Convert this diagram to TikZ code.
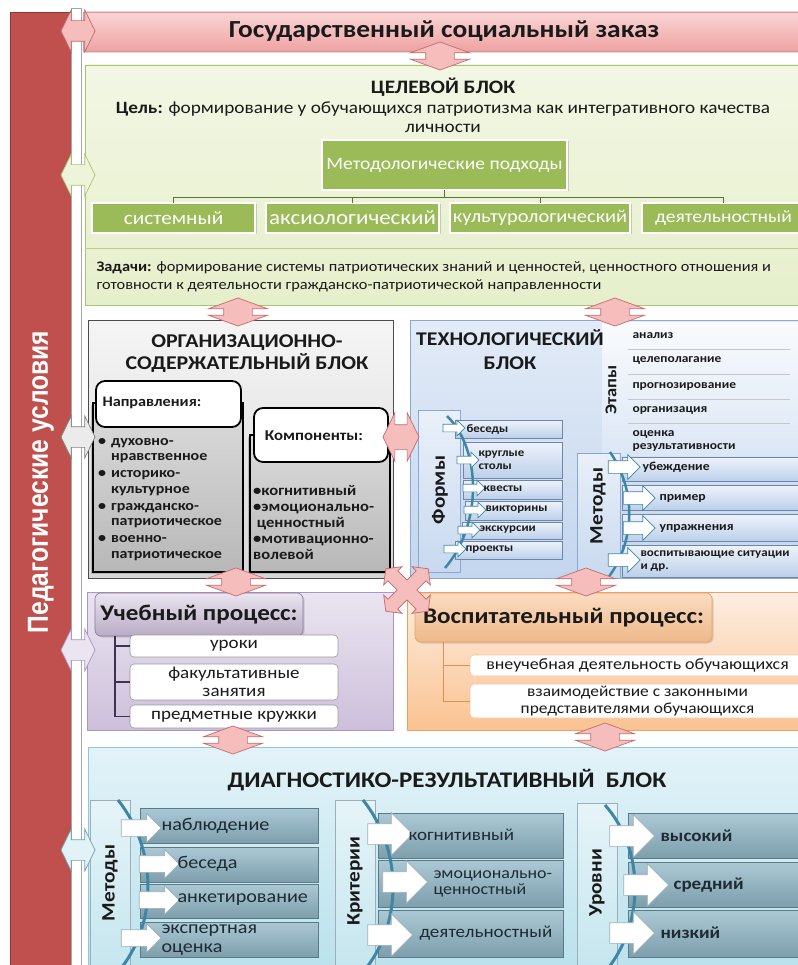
\documentclass[tikz,border=0pt]{standalone}
\usepackage{fontspec}
\setmainfont{Carlito}[FakeStretch=1.12]
\newfontfamily\condfont{Liberation Sans}[FakeStretch=0.85]
\usetikzlibrary{shapes.arrows,shadows}
\newcommand\fsz[2]{\fontsize{#1}{#2}\selectfont}
\definecolor{redbar}{HTML}{C0504D}
\definecolor{redbarD}{HTML}{8E3A38}
\definecolor{pinkF}{HTML}{F6BDBD}
\definecolor{pinkD}{HTML}{C46A6B}
\definecolor{zakT}{HTML}{F9D5D5}
\definecolor{zakB}{HTML}{EFA3A3}
\definecolor{greenT}{HTML}{F2F7E4}
\definecolor{greenB}{HTML}{E6EFCB}
\definecolor{greenD}{HTML}{A9C46E}
\definecolor{olive}{HTML}{9BBB59}
\definecolor{techT}{HTML}{E2EBF7}
\definecolor{techB}{HTML}{C3D6EE}
\definecolor{techD}{HTML}{8AA8D4}
\definecolor{panT}{HTML}{E9F0F9}
\definecolor{panB}{HTML}{C8D9EF}
\definecolor{itT}{HTML}{EEF3FB}
\definecolor{itB}{HTML}{BCD0EA}
\definecolor{purT}{HTML}{EAE5F0}
\definecolor{purB}{HTML}{CDBFDB}
\definecolor{purD}{HTML}{A996C2}
\definecolor{purL}{HTML}{3F3151}
\definecolor{orT}{HTML}{FDEEE2}
\definecolor{orB}{HTML}{FAC290}
\definecolor{orD}{HTML}{EDA063}
\definecolor{orL}{HTML}{E0924C}
\definecolor{cyT}{HTML}{E2F3F8}
\definecolor{cyB}{HTML}{B9E1EC}
\definecolor{cyD}{HTML}{8CC8D8}
\definecolor{dpT}{HTML}{E6F4F8}
\definecolor{dpB}{HTML}{C4E5EE}
\definecolor{diT}{HTML}{ABC9D5}
\definecolor{diB}{HTML}{7E9EAC}
\definecolor{diD}{HTML}{5A7A88}
\definecolor{arcb}{HTML}{3F86A6}
\definecolor{txt}{HTML}{1A1A1A}
\definecolor{dtxt}{HTML}{1E2B33}
\newcommand\bx[7]{\node[#1, minimum width={#4-#2}, minimum height={#5-#3}] (#6) at ({(#2+#4)/2},{(#3+#5)/2}) {#7};}
\tikzset{
 every node/.style={text=txt},
 bb/.style={inner sep=0pt, outer sep=0pt},
 pinkv/.style={double arrow, draw=pinkD, fill=pinkF, line width=0.7pt, rotate=90, minimum height=28pt, inner xsep=0pt, inner ysep=14pt, outer sep=0pt, double arrow head extend=15pt, double arrow tip angle=140},
 sidearr/.style={double arrow, line width=0.7pt, minimum height=34pt, inner xsep=0pt, inner ysep=10pt, outer sep=0pt, double arrow head extend=10.5pt, double arrow tip angle=128},
 warr/.style n args={4}{single arrow, draw=#4, fill=white, line width=0.7pt, minimum height=#1, inner xsep=0pt, inner ysep=#2, outer sep=0pt, single arrow head extend=#3},
 greenblk/.style={bb, draw=greenD, line width=0.8pt, top color=greenT, bottom color=greenB},
 olivebox/.style={bb, draw=white, line width=1.6pt, fill=olive, text=white, drop shadow={opacity=0.35,shadow xshift=1.5pt,shadow yshift=-1.5pt}},
 grayblk/.style={bb, draw=black!70, line width=1pt, top color=black!4, bottom color=black!16},
 innerg/.style={bb, draw=black, line width=1.8pt, top color=black!14, bottom color=black!28, drop shadow={opacity=0.4,shadow xshift=-2pt,shadow yshift=-2pt}},
 hdrw/.style={bb, draw=black, line width=1.8pt, fill=white, rounded corners=9pt},
 techblk/.style={bb, draw=techD, line width=0.8pt, top color=techT, bottom color=techB},
 techpan/.style={bb, draw=techD, line width=0.7pt, top color=panT, bottom color=panB},
 techit/.style={bb, draw=techD!80!black, line width=0.5pt, top color=itT, bottom color=itB},
 purblk/.style={bb, draw=purD, line width=0.8pt, top color=purT, bottom color=purB},
 purhdr/.style={bb, draw=purD!80!black, line width=0.6pt, top color=purT, bottom color=purB!90!black, rounded corners=6pt, drop shadow={opacity=0.3,shadow xshift=1.5pt,shadow yshift=-1.5pt}},
 whit/.style={bb, draw=black!40, line width=0.6pt, fill=white, rounded corners=4pt},
 orblk/.style={bb, draw=orD, line width=0.8pt, top color=orT, bottom color=orB},
 orhdr/.style={bb, draw=orD, line width=0.6pt, top color=orT!60!orB, bottom color=orB!95!black, rounded corners=6pt, drop shadow={opacity=0.3,shadow xshift=1.5pt,shadow yshift=-1.5pt}},
 cyblk/.style={bb, draw=cyD, line width=0.8pt, top color=cyT, bottom color=cyB},
 dpan/.style={bb, draw=diD!60, line width=0.6pt, top color=dpT, bottom color=dpB},
 dit/.style={bb, draw=diD, line width=0.6pt, top color=diT, bottom color=diB},
 lbl/.style={rotate=90, font=\bfseries\fsz{19}{21}},
 etx/.style={anchor=west, font=\bfseries\fsz{12}{13}, align=left},
 ftx/.style={anchor=west, font=\bfseries\fsz{11.5}{12.5}, align=left},
 dtx/.style={anchor=west, font=\fsz{18}{19}, text=dtxt, align=left},
}
\begin{document}
\begin{tikzpicture}[x=1pt,y=-1pt]
\useasboundingbox (0,0) rectangle (797,965);
\fill[white] (0,0) rectangle (797,965);

% left bar
\bx{bb, draw=redbarD, fill=redbar, line width=0.8pt}{10}{12}{71}{975}{bar}{}
\node[rotate=90, text=white, font=\condfont\bfseries\fsz{29}{30}] (cond) at (41,482) {Педагогические условия};
\bx{bb, draw=black!35, fill=white, line width=0.5pt}{71}{8}{81}{975}{strip}{}

% top box
\bx{bb, draw=pinkD!70, line width=0.8pt, top color=zakT, bottom color=zakB, drop shadow={opacity=0.25,shadow xshift=0pt,shadow yshift=-2pt}, font=\bfseries\fsz{24.5}{26}}{83}{12}{805}{51}{zakaz}{Государственный социальный заказ}

% green block
\bx{greenblk}{85}{65}{805}{305}{celblk}{}
\draw[greenD!80, line width=0.6pt] (85,248) -- (800,248);
\node[font=\bfseries\fsz{19}{21}] (celt) at (443,87) {ЦЕЛЕВОЙ БЛОК};
\node[font=\fsz{17.2}{19}, align=center] (celtxt) at (443,117) {\textbf{Цель:} формирование у обучающихся патриотизма как интегративного качества\\личности};
\bx{olivebox, font=\fsz{17.5}{20}}{322}{140}{567}{190}{metod}{Методологические подходы}
\bx{olivebox, font=\fsz{19}{22}}{92}{203}{255}{233}{ap1}{системный}
\bx{olivebox, font=\fsz{20.5}{22}}{266}{203}{439}{233}{ap2}{аксиологический}
\bx{olivebox, font=\fsz{18.2}{20}}{450}{203}{630}{233}{ap3}{культурологический}
\bx{olivebox, font=\fsz{17.5}{20}}{642}{203}{805}{233}{ap4}{деятельностный}
\coordinate (tj) at (444.5,197);
\draw[olive!60!black, line width=0.8pt] (metod.south) -- (tj) (ap1.north) |- (tj) (ap4.north) |- (tj) (ap2.north) -- (ap2.north |- tj) (ap3.north) -- (ap3.north |- tj);
\node[font=\fsz{14.6}{18}, align=left, anchor=west] (zad) at (93,277) {\textbf{Задачи:} формирование системы патриотических знаний и ценностей, ценностного отношения и\\готовности к деятельности гражданско-патриотической направленности};

% org block
\bx{grayblk}{88}{320}{393}{578}{orgblk}{}
\node[font=\bfseries\fsz{19.5}{22}, align=center] (orgt) at (247,354) {ОРГАНИЗАЦИОННО-\\СОДЕРЖАТЕЛЬНЫЙ БЛОК};
\bx{innerg}{93}{403}{243}{572}{naprb}{}
\bx{hdrw}{96}{381}{241}{427}{naprh}{}
\node[font=\bfseries\fsz{14.5}{16}, anchor=west] (naprt) at (99,403) {Направления:};
\node[font=\bfseries\fsz{14.3}{15.5}, anchor=north west, inner sep=0pt] (naprl) at (98,434) {\begin{tabular}{@{}l@{\hspace{5pt}}l@{}}•&духовно-\\&нравственное\\[1.5pt]•&историко-\\&культурное\\[1.5pt]•&гражданско-\\&патриотическое\\[1.5pt]•&военно-\\&патриотическое\end{tabular}};
\bx{innerg}{250}{435}{390}{572}{kompb}{}
\bx{hdrw}{254}{408}{388}{462}{komph}{}
\node[font=\bfseries\fsz{15}{16}] (kompt) at (314,436) {Компоненты:};
\node[font=\bfseries\fsz{14.8}{16}, anchor=north west, inner sep=0pt] (kompl) at (253,484) {\begin{tabular}{@{}l@{}}•когнитивный\\•эмоционально-\\\ ценностный\\•мотивационно-\\волевой\end{tabular}};

% tech block
\bx{techblk}{410}{320}{805}{578}{techb}{}
\bx{bb, top color=white!80!techT, bottom color=techT!80!techB}{602}{322}{805}{455}{etapa}{}
\node[font=\bfseries\fsz{19.4}{24}, align=center] (techt) at (510,350) {ТЕХНОЛОГИЧЕСКИЙ\\БЛОК};
\foreach \yy in {349,374,399,423} \draw[black!22, line width=0.8pt] (628,\yy) -- (790,\yy);
\node[etx] (e1) at (629,336) {анализ};
\node[etx] (e2) at (629,361) {целеполагание};
\node[etx] (e3) at (629,386) {прогнозирование};
\node[etx] (e4) at (629,410) {организация};
\node[etx] (e5) at (629,441) {оценка\\результативности};
\node[lbl, font=\bfseries\fsz{16.5}{18}] (etl) at (611,390) {Этапы};

\bx{techpan}{418}{410}{460}{572}{formp}{}
\node[lbl] (forml) at (440,490) {Формы};
\bx{techit}{455}{420}{562}{438}{f1}{}
\bx{techit}{463}{442}{562}{478}{f2}{}
\bx{techit}{463}{480}{562}{499}{f3}{}
\bx{techit}{465}{501}{562}{520}{f4}{}
\bx{techit}{462}{522}{562}{539}{f5}{}
\bx{techit}{455}{541}{562}{559}{f6}{}
\draw[arcb, line width=2.5pt] (447,416) .. controls (482,450) and (482,525) .. (445,568);
\node[warr={22pt}{3.5pt}{4pt}{arcb}] (c1) at (452,428) {};
\node[warr={22pt}{3.5pt}{4pt}{arcb}] (c2) at (466,460) {};
\node[warr={22pt}{3.5pt}{4pt}{arcb}] (c3) at (472,488) {};
\node[warr={22pt}{3.5pt}{4pt}{arcb}] (c4) at (473,510) {};
\node[warr={22pt}{3.5pt}{4pt}{arcb}] (c5) at (467,530) {};
\node[warr={22pt}{3.5pt}{4pt}{arcb}] (c6) at (453,549) {};
\node[ftx] (ft1) at (463,429) {беседы};
\node[ftx] (ft2) at (475,460) {круглые\\столы};
\node[ftx] (ft3) at (480,489) {квесты};
\node[ftx] (ft4) at (482,510) {викторины};
\node[ftx] (ft5) at (476,530) {экскурсии};
\node[ftx] (ft6) at (462,550) {проекты};

\bx{techpan}{577}{453}{620}{578}{metp}{}
\node[lbl] (metl) at (598,506) {Методы};
\bx{techit}{622}{457}{805}{481}{m1}{}
\bx{techit}{622}{485}{805}{510}{m2}{}
\bx{techit}{622}{514}{805}{541}{m3}{}
\bx{techit}{622}{545}{805}{577}{m4}{}
\draw[arcb, line width=2.5pt] (610,452) .. controls (636,490) and (636,540) .. (608,578);
\node[warr={32pt}{6pt}{6pt}{arcb}] (ma1) at (621,467) {};
\node[warr={32pt}{6pt}{6pt}{arcb}] (ma2) at (636,498) {};
\node[warr={32pt}{6pt}{6pt}{arcb}] (ma3) at (636,528) {};
\node[warr={32pt}{6pt}{6pt}{arcb}] (ma4) at (621,560) {};
\node[ftx, font=\bfseries\fsz{12.2}{13}] (mt1) at (639,467) {убеждение};
\node[ftx, font=\bfseries\fsz{12.2}{13}] (mt2) at (656,498) {пример};
\node[ftx, font=\bfseries\fsz{12.2}{13}] (mt3) at (656,528) {упражнения};
\node[ftx, font=\bfseries\fsz{11.6}{13}] (mt4) at (637,561) {воспитывающие ситуации\\и др.};

% connectors between blocks
\node[pinkv] (pa0) at (440,56) {};
\node[pinkv] (pa1) at (238,312) {};
\node[pinkv] (pa2) at (615,312) {};
\node[sidearr, draw=pinkD, fill=pinkF, minimum height=36pt, inner ysep=12pt, double arrow head extend=12pt] (oarr) at (401,437) {};

% purple
\bx{purblk}{87}{592}{393}{730}{uchblk}{}
\bx{purhdr, font=\bfseries\fsz{22.4}{24}}{95}{593}{303}{636}{uchh}{Учебный процесс:}
\bx{whit, font=\fsz{17}{17}}{130}{635}{338}{657}{u1}{уроки}
\bx{whit, font=\fsz{17}{17.5}, align=center}{130}{664}{338}{700}{u2}{факультативные\\занятия}
\bx{whit, font=\fsz{17}{17}}{130}{705}{338}{728}{u3}{предметные кружки}
\coordinate (ut) at (115,636);
\draw[purL, line width=1.3pt] (ut) |- (u3.west) (u1.west) -- (u1.west -| ut) (u2.west) -- (u2.west -| ut);

% orange
\bx{orblk}{407}{592}{805}{730}{voblk}{}
\bx{orhdr, font=\bfseries\fsz{22.4}{24}}{415}{593}{712}{642}{voh}{Воспитательный процесс:}
\bx{whit, draw=orD!60, font=\fsz{16}{16}}{470}{655}{805}{676}{v1}{внеучебная деятельность обучающихся}
\bx{whit, draw=orD!60, font=\fsz{15.5}{16.5}, align=center}{470}{684}{805}{718}{v2}{взаимодействие с законными\\представителями обучающихся}
\coordinate (vt) at (443,642);
\draw[orL, line width=1pt] (vt) |- (v2.west) (v1.west) -- (v1.west -| vt);

\node[pinkv] (pa3) at (236,582) {};
\node[pinkv] (pa4) at (586,582) {};

\begin{scope}[shift={(407,590)}, rotate=45]
\draw[pinkD, fill=pinkF, line width=0.7pt] (7,7) -- (7,20) -- (13,20) -- (0,30) -- (-13,20) -- (-7,20) -- (-7,7) -- (-20,7) -- (-20,13) -- (-30,0) -- (-20,-13) -- (-20,-7) -- (-7,-7) -- (-7,-20) -- (-13,-20) -- (0,-30) -- (13,-20) -- (7,-20) -- (7,-7) -- (20,-7) -- (20,-13) -- (30,0) -- (20,13) -- (20,7) -- cycle;
\end{scope}

% diagnostic
\bx{cyblk}{88}{747}{805}{975}{diagblk}{}
\node[pinkv] (pa5) at (233,740) {};
\node[pinkv] (pa6) at (605,737) {};
\node[font=\bfseries\fsz{22.3}{23}] (diagt) at (447,780) {ДИАГНОСТИКО-РЕЗУЛЬТАТИВНЫЙ\ \ БЛОК};
\bx{dpan}{90}{800}{130}{975}{dmp}{}
\bx{dpan}{335}{800}{375}{975}{dkp}{}
\bx{dpan}{577}{803}{617}{975}{dup}{}
\node[lbl] (dml) at (110,883) {Методы};
\node[lbl] (dkl) at (355,881) {Критерии};
\node[lbl] (dul) at (597,883) {Уровни};
\bx{dit}{140}{808}{318}{843}{dm1}{}
\bx{dit}{140}{847}{318}{882}{dm2}{}
\bx{dit}{140}{884}{318}{918}{dm3}{}
\bx{dit}{140}{922}{318}{957}{dm4}{}
\bx{dit}{378}{813}{563}{858}{dk1}{}
\bx{dit}{378}{860}{563}{907}{dk2}{}
\bx{dit}{378}{910}{563}{957}{dk3}{}
\bx{dit}{628}{813}{805}{858}{du1}{}
\bx{dit}{628}{862}{805}{907}{du2}{}
\bx{dit}{628}{910}{805}{957}{du3}{}
\draw[arcb, line width=3pt] (118,800) .. controls (158,850) and (158,925) .. (118,972);
\draw[arcb, line width=3pt] (363,800) .. controls (403,850) and (403,925) .. (363,972);
\draw[arcb, line width=3pt] (605,805) .. controls (645,850) and (645,925) .. (605,972);
\node[warr={40pt}{8pt}{6pt}{diD!60}] (da1) at (137,828) {};
\node[warr={40pt}{8pt}{6pt}{diD!60}] (da2) at (155,864) {};
\node[warr={40pt}{8pt}{6pt}{diD!60}] (da3) at (155,900) {};
\node[warr={40pt}{8pt}{6pt}{diD!60}] (da4) at (137,938) {};
\node[warr={45pt}{10pt}{11pt}{diD!60}] (db1) at (385,834) {};
\node[warr={45pt}{10pt}{11pt}{diD!60}] (db2) at (400,882) {};
\node[warr={45pt}{10pt}{11pt}{diD!60}] (db3) at (385,935) {};
\node[warr={45pt}{10pt}{11pt}{diD!60}] (dc1) at (627,836) {};
\node[warr={45pt}{10pt}{11pt}{diD!60}] (dc2) at (641,885) {};
\node[warr={45pt}{10pt}{11pt}{diD!60}] (dc3) at (627,933) {};
\node[dtx] (dt1) at (158,826) {наблюдение};
\node[dtx] (dt2) at (174,864) {беседа};
\node[dtx] (dt3) at (174,900) {анкетирование};
\node[dtx] (dt4) at (158,940) {экспертная\\оценка};
\node[dtx, font=\fsz{17}{17}] (dk1t) at (405,835) {когнитивный};
\node[dtx, font=\fsz{16}{16}] (dk2t) at (430,884) {эмоционально-\\ценностный};
\node[dtx, font=\fsz{17}{17}] (dk3t) at (416,933) {деятельностный};
\node[dtx, font=\bfseries\fsz{17}{17}] (du1t) at (657,836) {высокий};
\node[dtx, font=\bfseries\fsz{17}{17}] (du2t) at (670,885) {средний};
\node[dtx, font=\bfseries\fsz{17}{17}] (du3t) at (657,933) {низкий};

% side arrows
\node[sidearr, draw=pinkD, fill=pinkF] (sa1) at (78,31) {};
\node[sidearr, draw=greenD, fill=greenT!60!greenB] (sa2) at (78,175) {};
\node[sidearr, draw=black!50, fill=black!8] (sa3) at (78,437) {};
\node[sidearr, draw=purD, fill=purT] (sa4) at (78,650) {};
\node[sidearr, draw=cyD!80!black, fill=cyT] (sa5) at (78,850) {};
\end{tikzpicture}
\end{document}
